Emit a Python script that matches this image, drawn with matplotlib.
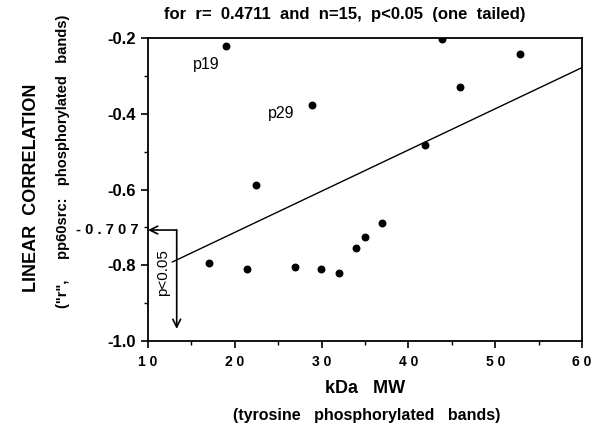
import numpy as np
import matplotlib
matplotlib.use('Agg')
import matplotlib.pyplot as plt

# kDa MW of the bands, linear correlation r
mw = [19.0, 22.4, 28.9, 43.9, 52.9, 45.9, 41.95, 36.9, 34.96, 33.9, 31.96, 29.9, 26.9, 17.0, 21.4]
r = [-0.22, -0.588, -0.377, -0.202, -0.243, -0.329, -0.483, -0.688, -0.725, -0.755, -0.821, -0.811, -0.805, -0.795, -0.811]
xticks = [10, 20, 30, 40, 50, 60]
xticklabels = ['1 0', '2 0', '3 0', '4 0', '5 0', '6 0']
yticks = [-1.0, -0.8, -0.6, -0.4, -0.2]
yticklabels = ['-1.0', '-0.8', '-0.6', '-0.4', '-0.2']
r_crit = -0.707
labels = [('p19', 16.7, -0.271), ('p29', 25.3, -0.40)]

plt.rcParams['font.family'] = ['Liberation Sans', 'DejaVu Sans']

fig = plt.figure(figsize=(5.97, 4.25), dpi=100)
ax = fig.add_axes([0.248, 0.1976, 0.727, 0.713])

ax.scatter(mw, r, s=22, color='black', zorder=3)

# least squares line
k, b = np.polyfit(mw, r, 1)
xl = np.array([12.8, 60])
ax.plot(xl, k * xl + b, color='black', lw=1.0)

# critical r arrows
xa = 13.3
ax.annotate('', xy=(10, r_crit), xytext=(xa, r_crit),
            arrowprops=dict(arrowstyle='->', lw=1.2, color='black',
                            shrinkA=0, shrinkB=0, mutation_scale=14),
            annotation_clip=False)
ax.annotate('', xy=(xa, -0.968), xytext=(xa, r_crit),
            arrowprops=dict(arrowstyle='->', lw=1.2, color='black',
                            shrinkA=0, shrinkB=0, mutation_scale=14))
ax.text(11.75, -0.819, 'p<0.05', rotation=90, ha='center', va='center', fontsize=11)
ax.text(8.95, r_crit, '- 0 . 7 0 7', ha='right', va='center', fontsize=10.5,
        fontweight='bold', clip_on=False)

for t, x, y in labels:
    ax.text(x, y, t, ha='center', va='center', fontsize=11.5)

ax.set_xlim(10, 60)
ax.set_ylim(-1.0, -0.2)
ax.set_xticks(xticks)
ax.set_xticklabels(xticklabels, fontsize=10, fontweight='bold')
ax.set_xticks([15, 25, 35, 45, 55], minor=True)
ax.set_yticks(yticks)
ax.set_yticklabels(yticklabels, fontsize=12, fontweight='bold')
ax.set_yticks([-0.9, -0.7, -0.5, -0.3], minor=True)
ax.tick_params(which='major', direction='out', length=5, width=1.2, pad=4)
ax.tick_params(which='minor', direction='out', length=3, width=1.0)
ax.tick_params(axis='x', pad=5)
for s in ax.spines.values():
    s.set_linewidth(1.3)

fig.text(0.578, 0.967, 'for  r=  0.4711  and  n=15,  p<0.05  (one  tailed)',
         ha='center', va='center', fontsize=12, fontweight='bold')
fig.text(0.612, 0.087, 'kDa   MW', ha='center', va='center', fontsize=13, fontweight='bold')
fig.text(0.615, 0.0235, '(tyrosine   phosphorylated   bands)', ha='center', va='center',
         fontsize=11.5, fontweight='bold')
fig.text(0.052, 0.558, 'LINEAR  CORRELATION', rotation=90, ha='center', va='center',
         fontsize=13, fontweight='bold')
fig.text(0.105, 0.621, '("r",     pp60src:   phosphorylated   bands)', rotation=90,
         ha='center', va='center', fontsize=10.5, fontweight='bold')

fig.savefig('out.png', dpi=100)
